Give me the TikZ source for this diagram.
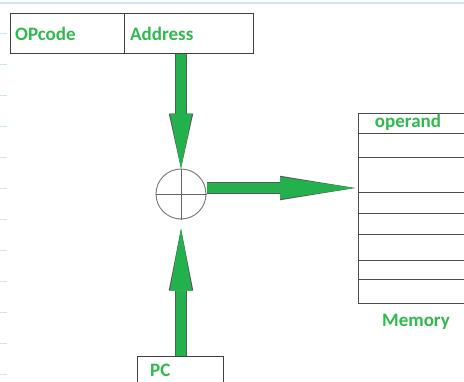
\documentclass[tikz,border=0pt]{standalone}
\usepackage{fontspec}
\setmainfont{Carlito}
\usepackage{xcolor}
\usetikzlibrary{arrows.meta}
\definecolor{paintgreen}{RGB}{34,177,76}
\definecolor{labelgreen}{RGB}{48,186,78}
\definecolor{rulerblue}{RGB}{200,232,250}

\begin{document}
\begin{tikzpicture}[x=1pt,y=-1pt,
  lbl/.style={font=\fontsize{19}{20}\selectfont\bfseries,text=labelgreen,inner sep=0pt},
  field/.style={draw=black!75,line width=1pt,minimum height=40pt,inner sep=0pt,anchor=north west},
  fat/.style={paintgreen,line width=10pt,-{Triangle[length=#1,width=22pt,line width=0pt]},
    preaction={draw=black!65,line width=11.5pt,-{Triangle[length=#1,width=24.5pt,line width=0pt]}}}]
\useasboundingbox(0,0)rectangle(464,381);
% ruler marks of the screenshot
\draw[rulerblue,line width=1.2pt](0,3)--(464,3);
\foreach \k in {0,...,11}
  \draw[rulerblue,line width=1pt](0,33+31*\k)--(7,33+31*\k);
% instruction
\node[field,minimum width=114pt](opc)at(10,13){};
\node[field,minimum width=129pt](addr)at(124,13){};
\node[lbl,anchor=west](opctxt)at([xshift=5pt]opc.west){OPcode};
\node[lbl,anchor=west](addrtxt)at([xshift=6pt]addr.west){Address};
% adder
\node[draw=black!50,line width=1pt,circle,minimum size=50pt,inner sep=0pt](sum)at(181,194){};
\draw[black!60](sum.north)--(sum.south)
(sum.west)--(sum.east);
% memory
\node[draw=black!70,line width=1pt,minimum width=112pt,minimum height=190pt,inner sep=0pt,anchor=north west](mem)at(358,113){};
\foreach \y in {133,157,192,213,234,260,279}
  \draw[black!70,line width=1pt](358,\y)--(470,\y);
\node[lbl](optxt)at(408,122){operand};
\node[lbl](memtxt)at(416,322){Memory};
\coordinate(memin)at(355,188);
% PC
\node[field,minimum width=86pt,minimum height=45pt](pc)at(137,356){};
\node[lbl,anchor=west](pctxt)at(150,370){PC};
% arrows
\draw[fat=55pt](sum|-addr.south)--(sum.north);
\draw[fat=62pt](sum|-pc.north)--([yshift=-9pt]sum.south);
\draw[fat=75pt]([yshift=6pt]sum.east)--(memin);
\end{tikzpicture}
\end{document}
